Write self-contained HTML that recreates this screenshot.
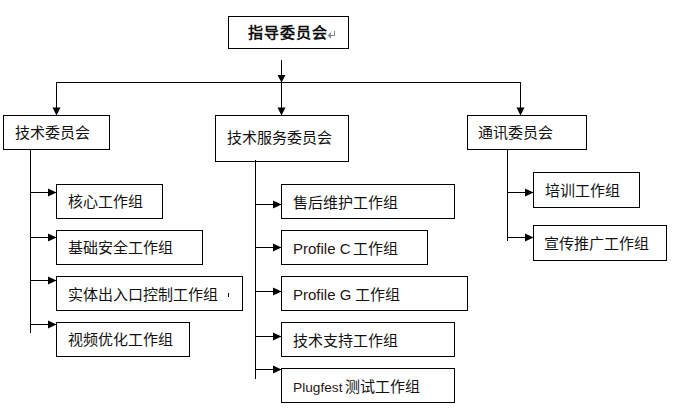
<!DOCTYPE html>
<html lang="zh-CN"><head><meta charset="utf-8"><style>
html,body{margin:0;padding:0;background:#fff;width:684px;height:415px;overflow:hidden}
body{position:relative;font-family:"Liberation Sans",sans-serif;color:#000}
.b{position:absolute;box-sizing:border-box;border:1px solid #000}
.t{position:absolute;font-size:15px;line-height:15px;white-space:nowrap;color:#111}
.l{position:absolute;font-size:15px;line-height:15px;white-space:nowrap;color:#2a1414}
svg{position:absolute;left:0;top:0}
</style></head><body>
<div class="b" style="left:228px;top:16px;width:121px;height:33px"></div>
<div class="b" style="left:3px;top:115px;width:107px;height:35px"></div>
<div class="b" style="left:215px;top:115px;width:134px;height:47px"></div>
<div class="b" style="left:467px;top:115px;width:120px;height:35px"></div>
<div class="b" style="left:56px;top:184px;width:107px;height:35px"></div>
<div class="b" style="left:56px;top:230px;width:147px;height:35px"></div>
<div class="b" style="left:56px;top:276px;width:187px;height:35px"></div>
<div class="b" style="left:56px;top:322px;width:134px;height:35px"></div>
<div class="b" style="left:281px;top:184px;width:174px;height:35px"></div>
<div class="b" style="left:281px;top:230px;width:147px;height:35px"></div>
<div class="b" style="left:281px;top:276px;width:187px;height:35px"></div>
<div class="b" style="left:281px;top:322px;width:174px;height:35px"></div>
<div class="b" style="left:281px;top:368px;width:174px;height:35px"></div>
<div class="b" style="left:533px;top:172px;width:107px;height:36px"></div>
<div class="b" style="left:533px;top:225px;width:134px;height:36px"></div>
<div class="t" style="left:14.5px;top:125px">技术委员会</div>
<div class="t" style="left:226.5px;top:130px">技术服务委员会</div>
<div class="t" style="left:477.5px;top:125px">通讯委员会</div>
<div class="t" style="left:67.5px;top:194px">核心工作组</div>
<div class="t" style="left:67.5px;top:240px">基础安全工作组</div>
<div class="t" style="left:67.5px;top:287px">实体出入口控制工作组</div>
<div class="t" style="left:67.5px;top:332px">视频优化工作组</div>
<div class="t" style="left:292.5px;top:195px">售后维护工作组</div>
<div class="t" style="left:292.5px;top:333px">技术支持工作组</div>
<div class="t" style="left:544.5px;top:183px">培训工作组</div>
<div class="t" style="left:543.5px;top:236px">宣传推广工作组</div>
<div class="t" style="left:352.5px;top:241px">工作组</div>
<div class="t" style="left:354.5px;top:287px">工作组</div>
<div class="t" style="left:344.5px;top:379px">测试工作组</div>
<div class="t" style="left:248px;top:25px;font-weight:bold;letter-spacing:1px">指导委员会</div>
<div class="l" style="left:293px;top:241px">Profile C</div>
<div class="l" style="left:293px;top:287px">Profile G</div>
<div class="l" style="left:293px;top:379.5px;font-size:13.7px">Plugfest</div>
<svg width="684" height="415" viewBox="0 0 684 415" shape-rendering="crispEdges">
<rect x="281" y="60" width="1" height="23" fill="#000"/>
<rect x="56" y="82" width="465" height="1" fill="#000"/>
<rect x="56" y="82" width="1" height="34" fill="#000"/>
<rect x="281" y="82" width="1" height="34" fill="#000"/>
<rect x="520" y="82" width="1" height="34" fill="#000"/>
<rect x="30" y="149" width="1" height="184" fill="#000"/>
<rect x="30" y="192" width="27" height="1" fill="#000"/>
<rect x="30" y="237" width="27" height="1" fill="#000"/>
<rect x="30" y="280" width="27" height="1" fill="#000"/>
<rect x="30" y="324" width="27" height="1" fill="#000"/>
<rect x="255" y="160" width="1" height="219" fill="#000"/>
<rect x="255" y="204" width="27" height="1" fill="#000"/>
<rect x="255" y="247" width="27" height="1" fill="#000"/>
<rect x="255" y="291" width="27" height="1" fill="#000"/>
<rect x="255" y="336" width="27" height="1" fill="#000"/>
<rect x="255" y="369" width="27" height="1" fill="#000"/>
<rect x="507" y="149" width="1" height="92" fill="#000"/>
<rect x="507" y="192" width="27" height="1" fill="#000"/>
<rect x="507" y="237" width="27" height="1" fill="#000"/>
</svg>
<svg width="684" height="415" viewBox="0 0 684 415">
<polygon points="277.5,75 285.5,75 281.5,82.5" fill="#000"/>
<polygon points="52.5,107.5 60.5,107.5 56.5,115.5" fill="#000"/>
<polygon points="277.5,107.5 285.5,107.5 281.5,115.5" fill="#000"/>
<polygon points="516.5,107.5 524.5,107.5 520.5,115.5" fill="#000"/>
<polygon points="48,188.5 48,196.5 56.5,192.5" fill="#000"/>
<polygon points="48,233.5 48,241.5 56.5,237.5" fill="#000"/>
<polygon points="48,276.5 48,284.5 56.5,280.5" fill="#000"/>
<polygon points="48,320.5 48,328.5 56.5,324.5" fill="#000"/>
<polygon points="273,200.5 273,208.5 281.5,204.5" fill="#000"/>
<polygon points="273,243.5 273,251.5 281.5,247.5" fill="#000"/>
<polygon points="273,287.5 273,295.5 281.5,291.5" fill="#000"/>
<polygon points="273,332.5 273,340.5 281.5,336.5" fill="#000"/>
<polygon points="273,365.5 273,373.5 281.5,369.5" fill="#000"/>
<polygon points="525,188.5 525,196.5 533.5,192.5" fill="#000"/>
<polygon points="525,233.5 525,241.5 533.5,237.5" fill="#000"/>
<rect x="334" y="31" width="1" height="5" fill="#8a8a8a"/><rect x="330" y="35" width="5" height="1" fill="#8a8a8a"/><polygon points="327.5,35.5 331,32.3 331,38.7" fill="#8a8a8a"/>
<rect x="228" y="293" width="1" height="4" fill="#000"/>
</svg>
</body></html>
